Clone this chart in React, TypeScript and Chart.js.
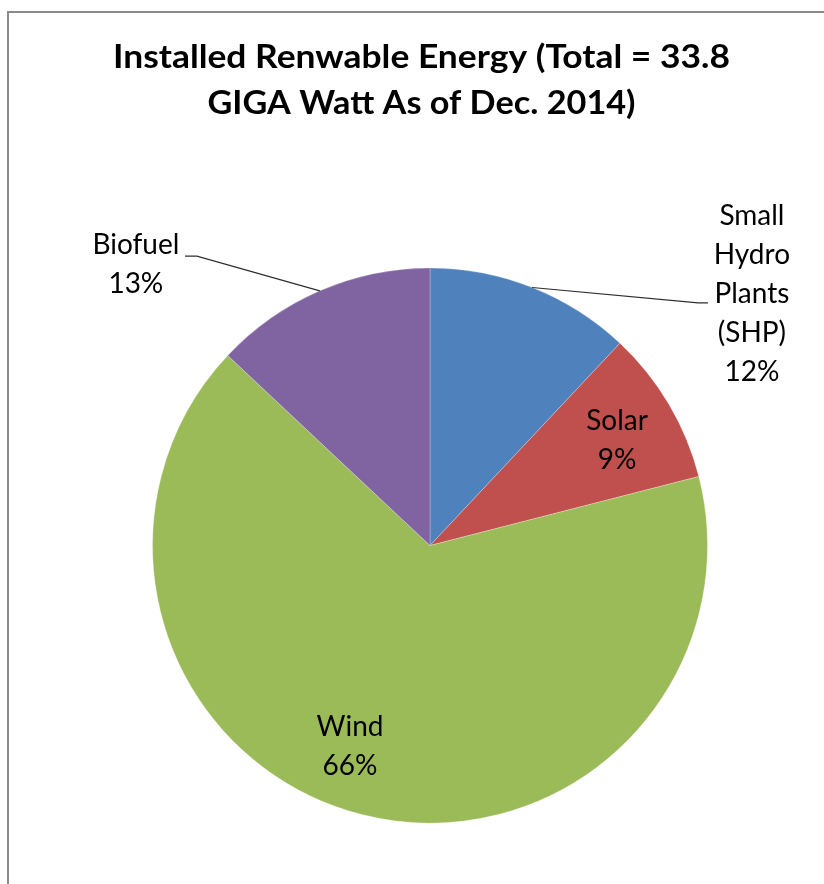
import React, { useEffect, useRef } from "react";
import { Chart, registerables } from "chart.js";

Chart.register(...registerables);

// Installed renewable capacity by source, share of total (%)
const categories = ["Small Hydro Plants (SHP)", "Solar", "Wind", "Biofuel"];
const shares = [12, 9, 66, 13];
const sliceColors = ["#4F81BD", "#C0504D", "#9BBB59", "#8064A2"];

// Label text for each slice (name split over lines; the percentage is appended)
const labelNames = [["Small", "Hydro", "Plants", "(SHP)"], ["Solar"], ["Wind"], ["Biofuel"]];

const titleLines = ["Installed Renwable Energy (Total = 33.8", "GIGA Watt As of Dec. 2014)"];

const FONT = "Lato, 'Open Sans', sans-serif";

// Title lines: baseline and set width, centred on the chart frame
const titleLayout = [
  { baseline: 67.5, width: 617 },
  { baseline: 114, width: 428 },
];

// Label placement relative to the pie centre, in units of the pie radius
type Leader = { elbow: [number, number]; end: [number, number] };
const labelLayout: { dx: number; dy: number; leader?: Leader }[] = [
  { dx: 1.16, dy: -0.905, leader: { elbow: [0.966, -0.874], end: [1.002, -0.874] } },
  { dx: 0.674, dy: -0.38 },
  { dx: -0.288, dy: 0.726 },
  { dx: -1.06, dy: -1.014, leader: { elbow: [-0.84, -1.043], end: [-0.883, -1.043] } },
];

const framePlugin = {
  id: "frame",
  beforeDraw(chart: Chart) {
    const ctx = chart.ctx;
    ctx.save();
    ctx.fillStyle = "#ffffff";
    ctx.fillRect(0, 0, chart.width, chart.height);
    ctx.strokeStyle = "#8a8a8a";
    ctx.lineWidth = 2;
    ctx.beginPath();
    ctx.moveTo(8, chart.height + 2);
    ctx.lineTo(8, 12);
    ctx.lineTo(chart.width + 2, 12);
    ctx.stroke();

    ctx.fillStyle = "#000000";
    ctx.font = `bold 32px ${FONT}`;
    ctx.textAlign = "center";
    ctx.textBaseline = "alphabetic";
    const centreX = 421.5;
    titleLines.forEach((t, i) => {
      const w = ctx.measureText(t).width;
      const sx = titleLayout[i].width / w;
      ctx.save();
      ctx.translate(centreX, titleLayout[i].baseline);
      ctx.scale(sx, 1);
      ctx.fillText(t, 0, 0);
      ctx.restore();
    });
    ctx.restore();
  },
};

const labelPlugin = {
  id: "sliceLabels",
  afterDatasetsDraw(chart: Chart) {
    const ctx = chart.ctx;
    const meta = chart.getDatasetMeta(0);
    const lineHeight = 39;
    ctx.save();
    meta.data.forEach((el: any, i: number) => {
      const { x, y, startAngle, endAngle, outerRadius } = el.getProps(
        ["x", "y", "startAngle", "endAngle", "outerRadius"],
        true
      );
      const R = outerRadius;
      const layout = labelLayout[i];
      const lines = [...labelNames[i], `${shares[i]}%`];
      const cx = x + layout.dx * R;
      const cy = y + layout.dy * R;

      if (layout.leader) {
        const mid = (startAngle + endAngle) / 2;
        ctx.strokeStyle = "#2e2e2e";
        ctx.lineWidth = 1.2;
        ctx.beginPath();
        ctx.moveTo(x + Math.cos(mid) * R, y + Math.sin(mid) * R);
        ctx.lineTo(x + layout.leader.elbow[0] * R, y + layout.leader.elbow[1] * R);
        ctx.lineTo(x + layout.leader.end[0] * R, y + layout.leader.end[1] * R);
        ctx.stroke();
      }

      ctx.fillStyle = "#000000";
      ctx.font = `28px ${FONT}`;
      ctx.textAlign = "center";
      ctx.textBaseline = "middle";
      const top = cy - ((lines.length - 1) * lineHeight) / 2;
      lines.forEach((t, k) => ctx.fillText(t, cx, top + k * lineHeight));
    });
    ctx.restore();
  },
};

export default function App() {
  const canvasRef = useRef<HTMLCanvasElement | null>(null);

  useEffect(() => {
    if (!canvasRef.current) return;
    const chart = new Chart(canvasRef.current, {
      type: "pie",
      data: {
        labels: categories,
        datasets: [
          {
            data: shares,
            backgroundColor: sliceColors,
            borderColor: "rgba(255,255,255,0.5)",
            borderWidth: 0.5,
            hoverOffset: 0,
            offset: 0,
            radius: 277.5,
          },
        ],
      },
      options: {
        responsive: false,
        animation: false,
        layout: { padding: { left: 40, right: 4, top: 210, bottom: 3 } },
        plugins: {
          legend: { display: false },
          title: { display: false },
          tooltip: { enabled: false },
        },
        events: [],
      },
      plugins: [framePlugin, labelPlugin],
    });
    return () => chart.destroy();
  }, []);

  return (
    <div style={{ position: "fixed", left: 0, top: 0, width: 824, height: 884, background: "#fff" }}>
      <canvas ref={canvasRef} width={824} height={884} style={{ display: "block" }} />
    </div>
  );
}
